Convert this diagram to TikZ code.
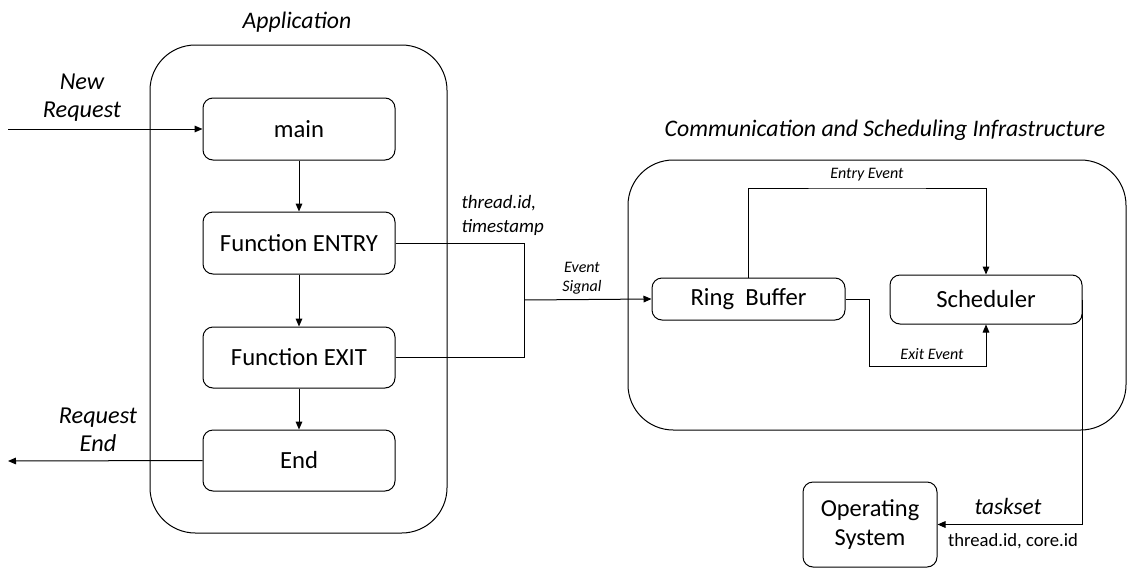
\documentclass[tikz,border=0pt]{standalone}
\usepackage{fontspec}
\setmainfont{Carlito}
\usetikzlibrary{arrows.meta}
\begin{document}
\begin{tikzpicture}[x=0.75pt,y=-0.75pt,line width=0.75pt,
  box/.style={draw,rounded corners=7.5pt,inner sep=0pt,font=\fontsize{18.5}{22}\selectfont},
  container/.style={draw,rounded corners=34pt,inner sep=0pt},
  arr/.style={-{Triangle[length=6pt,width=5pt]}},
  lbl/.style={inner sep=0pt,font=\fontsize{18.2}{21}\selectfont\itshape,align=center},
  small/.style={inner sep=0pt,font=\fontsize{12}{14.25}\selectfont\itshape,align=center}]
\useasboundingbox (0,0) rectangle (1128,568);
% containers
\node[container,minimum width=222.75pt,minimum height=366pt] (app) at (298.5,289) {};
\node[container,minimum width=373.5pt,minimum height=202.5pt] (comm) at (877,295) {};
\node[lbl,font=\fontsize{17.8}{20}\selectfont\itshape] (apptitle) at (297,22) {Application};
\node[lbl,font=\fontsize{17.8}{20}\selectfont\itshape] (commtitle) at (885,130) {Communication and Scheduling Infrastructure};
% application boxes
\node[box,minimum width=144pt,minimum height=46.5pt] (main) at (299,129) {main};
\node[box,minimum width=144pt,minimum height=46.5pt] (entry) at (299,243) {Function ENTRY};
\node[box,minimum width=144pt,minimum height=45.75pt] (exit) at (299,357.5) {Function EXIT};
\node[box,minimum width=144pt,minimum height=45.75pt] (end) at (299,460.5) {End};
% infrastructure boxes
\node[box,minimum width=144.75pt,minimum height=31.5pt] (ring) at (748.5,299) {Ring\ \ Buffer};
\node[box,minimum width=144pt,minimum height=36.75pt] (sched) at (986,299.5) {Scheduler};
\node[box,minimum width=100.5pt,minimum height=63.75pt,align=center,font=\fontsize{18.3}{21.75}\selectfont] (os) at (870,524.5) {Operating\\System};
% labels
\node[lbl] (newreq) at (82,98) {New\\Request};
\node[lbl] (reqend) at (98,430) {Request\\End};
\node[lbl,anchor=west,align=left,font=\fontsize{14.2}{18}\selectfont\itshape] (tid) at (461,215) {thread.id,\\timestamp};
\node[small] (evsig) at (582,278) {Event\\Signal};
\node[small] (entev) at (867,175) {Entry Event};
\node[small] (exev) at (932,354) {Exit Event};
\node[lbl,font=\fontsize{17.5}{18}\selectfont\itshape] (taskset) at (1008,506) {taskset};
\node[inner sep=0pt,font=\fontsize{14}{18}\selectfont] (tcid) at (1013,541) {thread.id, core.id};
% connectors
\coordinate (nrstart) at (8,129);
\coordinate (reend) at (8,461);
\coordinate (join) at (524,300);
\coordinate (eetop) at (867,188);
\coordinate (xebot) at (869,366);
\draw[arr] (nrstart) -- (main.west);
\draw[arr] (main) -- (entry);
\draw[arr] (entry) -- (exit);
\draw[arr] (exit) -- (end);
\draw[arr] (end.west) -- (reend);
\draw (entry.east) -| (join);
\draw (exit.east) -| (join);
\draw[arr] (join) -- (ring.west);
\draw[arr] (ring.north) |- (eetop) -| (sched.north);
\draw[arr] (ring.east) -| (xebot) -| (sched.south);
\draw[arr] (sched.east) |- (os.east);
\end{tikzpicture}
\end{document}
